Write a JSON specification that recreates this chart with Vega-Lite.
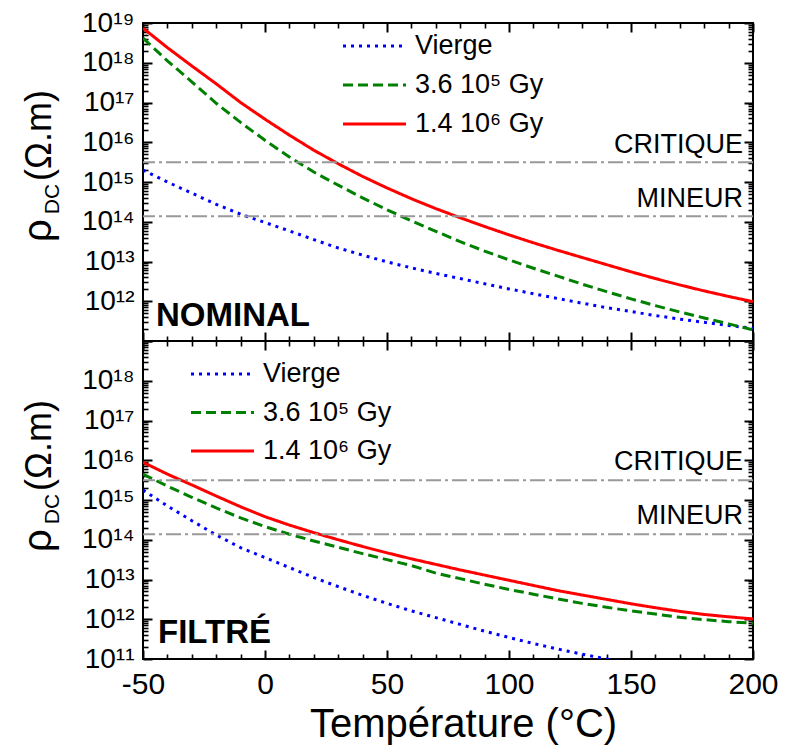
{
  "$schema": "https://vega.github.io/schema/vega-lite/v6.json",
  "padding": {"left": 17, "top": 8, "right": 5, "bottom": 5},
  "background": "white",
  "spacing": 0,
  "bounds": "flush",
  "datasets": {
    "levels": [
      {"level": "CRITIQUE", "rho": 3.16e15},
      {"level": "MINEUR", "rho": 1.38e14}
    ],
    "blank": [{"name": ""}],
    "nominal": [
      {"T": -50, "rho": 2.00e15, "s": "Vierge"}, {"T": -40, "rho": 1.00e15, "s": "Vierge"}, {"T": -30, "rho": 5.25e14, "s": "Vierge"}, {"T": -20, "rho": 2.75e14, "s": "Vierge"}, {"T": -10, "rho": 1.55e14, "s": "Vierge"}, {"T": 0, "rho": 9.55e13, "s": "Vierge"}, {"T": 10, "rho": 5.89e13, "s": "Vierge"}, {"T": 20, "rho": 3.55e13, "s": "Vierge"}, {"T": 30, "rho": 2.19e13, "s": "Vierge"}, {"T": 40, "rho": 1.45e13, "s": "Vierge"}, {"T": 50, "rho": 9.77e12, "s": "Vierge"}, {"T": 60, "rho": 6.92e12, "s": "Vierge"}, {"T": 70, "rho": 5.01e12, "s": "Vierge"}, {"T": 80, "rho": 3.72e12, "s": "Vierge"}, {"T": 90, "rho": 2.75e12, "s": "Vierge"}, {"T": 100, "rho": 2.04e12, "s": "Vierge"}, {"T": 110, "rho": 1.55e12, "s": "Vierge"}, {"T": 120, "rho": 1.17e12, "s": "Vierge"}, {"T": 130, "rho": 8.91e11, "s": "Vierge"}, {"T": 140, "rho": 6.92e11, "s": "Vierge"}, {"T": 150, "rho": 5.50e11, "s": "Vierge"}, {"T": 160, "rho": 4.37e11, "s": "Vierge"}, {"T": 170, "rho": 3.55e11, "s": "Vierge"}, {"T": 180, "rho": 2.95e11, "s": "Vierge"}, {"T": 190, "rho": 2.45e11, "s": "Vierge"}, {"T": 200, "rho": 2.09e11, "s": "Vierge"},
      {"T": -50, "rho": 4.17e18, "s": "3.6 10⁵ Gy"}, {"T": -40, "rho": 1.12e18, "s": "3.6 10⁵ Gy"}, {"T": -30, "rho": 3.31e17, "s": "3.6 10⁵ Gy"}, {"T": -20, "rho": 9.55e16, "s": "3.6 10⁵ Gy"}, {"T": -10, "rho": 3.16e16, "s": "3.6 10⁵ Gy"}, {"T": 0, "rho": 1.12e16, "s": "3.6 10⁵ Gy"}, {"T": 10, "rho": 4.27e15, "s": "3.6 10⁵ Gy"}, {"T": 20, "rho": 1.78e15, "s": "3.6 10⁵ Gy"}, {"T": 30, "rho": 8.32e14, "s": "3.6 10⁵ Gy"}, {"T": 40, "rho": 3.98e14, "s": "3.6 10⁵ Gy"}, {"T": 50, "rho": 2.00e14, "s": "3.6 10⁵ Gy"}, {"T": 60, "rho": 1.05e14, "s": "3.6 10⁵ Gy"}, {"T": 70, "rho": 5.75e13, "s": "3.6 10⁵ Gy"}, {"T": 80, "rho": 3.16e13, "s": "3.6 10⁵ Gy"}, {"T": 90, "rho": 1.82e13, "s": "3.6 10⁵ Gy"}, {"T": 100, "rho": 1.10e13, "s": "3.6 10⁵ Gy"}, {"T": 110, "rho": 6.76e12, "s": "3.6 10⁵ Gy"}, {"T": 120, "rho": 4.27e12, "s": "3.6 10⁵ Gy"}, {"T": 130, "rho": 2.69e12, "s": "3.6 10⁵ Gy"}, {"T": 140, "rho": 1.74e12, "s": "3.6 10⁵ Gy"}, {"T": 150, "rho": 1.15e12, "s": "3.6 10⁵ Gy"}, {"T": 160, "rho": 7.76e11, "s": "3.6 10⁵ Gy"}, {"T": 170, "rho": 5.37e11, "s": "3.6 10⁵ Gy"}, {"T": 180, "rho": 3.80e11, "s": "3.6 10⁵ Gy"}, {"T": 190, "rho": 2.69e11, "s": "3.6 10⁵ Gy"}, {"T": 200, "rho": 1.91e11, "s": "3.6 10⁵ Gy"},
      {"T": -50, "rho": 7.41e18, "s": "1.4 10⁶ Gy"}, {"T": -40, "rho": 2.40e18, "s": "1.4 10⁶ Gy"}, {"T": -30, "rho": 8.32e17, "s": "1.4 10⁶ Gy"}, {"T": -20, "rho": 2.95e17, "s": "1.4 10⁶ Gy"}, {"T": -10, "rho": 1.00e17, "s": "1.4 10⁶ Gy"}, {"T": 0, "rho": 3.80e16, "s": "1.4 10⁶ Gy"}, {"T": 10, "rho": 1.51e16, "s": "1.4 10⁶ Gy"}, {"T": 20, "rho": 6.31e15, "s": "1.4 10⁶ Gy"}, {"T": 30, "rho": 2.88e15, "s": "1.4 10⁶ Gy"}, {"T": 40, "rho": 1.38e15, "s": "1.4 10⁶ Gy"}, {"T": 50, "rho": 7.08e14, "s": "1.4 10⁶ Gy"}, {"T": 60, "rho": 3.80e14, "s": "1.4 10⁶ Gy"}, {"T": 70, "rho": 2.14e14, "s": "1.4 10⁶ Gy"}, {"T": 80, "rho": 1.26e14, "s": "1.4 10⁶ Gy"}, {"T": 90, "rho": 7.59e13, "s": "1.4 10⁶ Gy"}, {"T": 100, "rho": 4.68e13, "s": "1.4 10⁶ Gy"}, {"T": 110, "rho": 2.95e13, "s": "1.4 10⁶ Gy"}, {"T": 120, "rho": 1.91e13, "s": "1.4 10⁶ Gy"}, {"T": 130, "rho": 1.26e13, "s": "1.4 10⁶ Gy"}, {"T": 140, "rho": 8.32e12, "s": "1.4 10⁶ Gy"}, {"T": 150, "rho": 5.50e12, "s": "1.4 10⁶ Gy"}, {"T": 160, "rho": 3.72e12, "s": "1.4 10⁶ Gy"}, {"T": 170, "rho": 2.57e12, "s": "1.4 10⁶ Gy"}, {"T": 180, "rho": 1.82e12, "s": "1.4 10⁶ Gy"}, {"T": 190, "rho": 1.32e12, "s": "1.4 10⁶ Gy"}, {"T": 200, "rho": 9.77e11, "s": "1.4 10⁶ Gy"}
    ],
    "filtre": [
      {"T": -50, "rho": 1.78e15, "s": "Vierge"}, {"T": -40, "rho": 7.08e14, "s": "Vierge"}, {"T": -30, "rho": 3.02e14, "s": "Vierge"}, {"T": -20, "rho": 1.32e14, "s": "Vierge"}, {"T": -10, "rho": 6.31e13, "s": "Vierge"}, {"T": 0, "rho": 3.55e13, "s": "Vierge"}, {"T": 10, "rho": 2.00e13, "s": "Vierge"}, {"T": 20, "rho": 1.12e13, "s": "Vierge"}, {"T": 30, "rho": 6.61e12, "s": "Vierge"}, {"T": 40, "rho": 3.98e12, "s": "Vierge"}, {"T": 50, "rho": 2.51e12, "s": "Vierge"}, {"T": 60, "rho": 1.62e12, "s": "Vierge"}, {"T": 70, "rho": 1.10e12, "s": "Vierge"}, {"T": 80, "rho": 7.41e11, "s": "Vierge"}, {"T": 90, "rho": 5.01e11, "s": "Vierge"}, {"T": 100, "rho": 3.47e11, "s": "Vierge"}, {"T": 110, "rho": 2.45e11, "s": "Vierge"}, {"T": 120, "rho": 1.78e11, "s": "Vierge"}, {"T": 130, "rho": 1.32e11, "s": "Vierge"}, {"T": 140, "rho": 1.00e11, "s": "Vierge"}, {"T": 150, "rho": 7.59e10, "s": "Vierge"},
      {"T": -50, "rho": 4.47e15, "s": "3.6 10⁵ Gy"}, {"T": -40, "rho": 2.24e15, "s": "3.6 10⁵ Gy"}, {"T": -30, "rho": 1.17e15, "s": "3.6 10⁵ Gy"}, {"T": -20, "rho": 6.31e14, "s": "3.6 10⁵ Gy"}, {"T": -10, "rho": 3.55e14, "s": "3.6 10⁵ Gy"}, {"T": 0, "rho": 2.14e14, "s": "3.6 10⁵ Gy"}, {"T": 10, "rho": 1.38e14, "s": "3.6 10⁵ Gy"}, {"T": 20, "rho": 9.33e13, "s": "3.6 10⁵ Gy"}, {"T": 30, "rho": 6.46e13, "s": "3.6 10⁵ Gy"}, {"T": 40, "rho": 4.47e13, "s": "3.6 10⁵ Gy"}, {"T": 50, "rho": 3.16e13, "s": "3.6 10⁵ Gy"}, {"T": 60, "rho": 2.24e13, "s": "3.6 10⁵ Gy"}, {"T": 70, "rho": 1.45e13, "s": "3.6 10⁵ Gy"}, {"T": 80, "rho": 1.05e13, "s": "3.6 10⁵ Gy"}, {"T": 90, "rho": 7.59e12, "s": "3.6 10⁵ Gy"}, {"T": 100, "rho": 5.62e12, "s": "3.6 10⁵ Gy"}, {"T": 110, "rho": 4.27e12, "s": "3.6 10⁵ Gy"}, {"T": 120, "rho": 3.24e12, "s": "3.6 10⁵ Gy"}, {"T": 130, "rho": 2.51e12, "s": "3.6 10⁵ Gy"}, {"T": 140, "rho": 2.00e12, "s": "3.6 10⁵ Gy"}, {"T": 150, "rho": 1.62e12, "s": "3.6 10⁵ Gy"}, {"T": 160, "rho": 1.35e12, "s": "3.6 10⁵ Gy"}, {"T": 170, "rho": 1.12e12, "s": "3.6 10⁵ Gy"}, {"T": 180, "rho": 9.77e11, "s": "3.6 10⁵ Gy"}, {"T": 190, "rho": 8.71e11, "s": "3.6 10⁵ Gy"}, {"T": 200, "rho": 7.94e11, "s": "3.6 10⁵ Gy"},
      {"T": -50, "rho": 8.91e15, "s": "1.4 10⁶ Gy"}, {"T": -40, "rho": 4.47e15, "s": "1.4 10⁶ Gy"}, {"T": -30, "rho": 2.40e15, "s": "1.4 10⁶ Gy"}, {"T": -20, "rho": 1.26e15, "s": "1.4 10⁶ Gy"}, {"T": -10, "rho": 6.76e14, "s": "1.4 10⁶ Gy"}, {"T": 0, "rho": 3.80e14, "s": "1.4 10⁶ Gy"}, {"T": 10, "rho": 2.34e14, "s": "1.4 10⁶ Gy"}, {"T": 20, "rho": 1.51e14, "s": "1.4 10⁶ Gy"}, {"T": 30, "rho": 1.00e14, "s": "1.4 10⁶ Gy"}, {"T": 40, "rho": 6.76e13, "s": "1.4 10⁶ Gy"}, {"T": 50, "rho": 4.68e13, "s": "1.4 10⁶ Gy"}, {"T": 60, "rho": 3.31e13, "s": "1.4 10⁶ Gy"}, {"T": 70, "rho": 2.40e13, "s": "1.4 10⁶ Gy"}, {"T": 80, "rho": 1.74e13, "s": "1.4 10⁶ Gy"}, {"T": 90, "rho": 1.29e13, "s": "1.4 10⁶ Gy"}, {"T": 100, "rho": 9.55e12, "s": "1.4 10⁶ Gy"}, {"T": 110, "rho": 7.08e12, "s": "1.4 10⁶ Gy"}, {"T": 120, "rho": 5.25e12, "s": "1.4 10⁶ Gy"}, {"T": 130, "rho": 4.07e12, "s": "1.4 10⁶ Gy"}, {"T": 140, "rho": 3.16e12, "s": "1.4 10⁶ Gy"}, {"T": 150, "rho": 2.45e12, "s": "1.4 10⁶ Gy"}, {"T": 160, "rho": 1.95e12, "s": "1.4 10⁶ Gy"}, {"T": 170, "rho": 1.58e12, "s": "1.4 10⁶ Gy"}, {"T": 180, "rho": 1.32e12, "s": "1.4 10⁶ Gy"}, {"T": 190, "rho": 1.15e12, "s": "1.4 10⁶ Gy"}, {"T": 200, "rho": 1.02e12, "s": "1.4 10⁶ Gy"}
    ]
  },
  "vconcat": [
    {
      "width": 610,
      "height": 318,
      "layer": [
        {
          "data": {"name": "nominal"},
          "mark": {"type": "line", "strokeWidth": 3, "clip": true},
          "encoding": {
            "x": {"field": "T", "type": "quantitative", "scale": {"domain": [-50, 200], "nice": false, "zero": false},
              "axis": {"orient": "bottom", "values": [-50, 0, 50, 100, 150, 200], "labels": false, "ticks": false, "domain": false, "title": null}},
            "y": {"field": "rho", "type": "quantitative", "scale": {"type": "log", "domain": [1e11, 1e19], "nice": false},
              "axis": {"orient": "left", "ticks": false, "domain": false,
                "values": [1e11,1e12,1e13,1e14,1e15,1e16,1e17,1e18,1e19],
                "labelExpr": "round(log(datum.value)/LN10) >= 12 ? '10¹' + ['⁰','¹','²','³','⁴','⁵','⁶','⁷','⁸','⁹'][round(log(datum.value)/LN10) - 10] : ''",
                "labelPadding": 9, "labelFontSize": 28, "labelOverlap": false, "labelFlush": false,
                "title": "(Ω.m)", "titleFontSize": 36, "titleX": -93, "titleY": 112, "titleAngle": 270, "titleAlign": "center", "titleBaseline": "alphabetic"}},
            "color": {"field": "s", "type": "nominal",
              "scale": {"domain": ["Vierge", "3.6 10⁵ Gy", "1.4 10⁶ Gy"], "range": ["#0000ff", "#008000", "#ff0000"]},
              "legend": {"orient": "none", "legendX": 218, "legendY": 9.5, "title": null, "symbolType": "M-3,0H3", "symbolSize": 441, "symbolStrokeWidth": 3, "labelFontSize": 27, "labelFont": "Liberation Sans", "labelColor": "black", "labelOffset": 27, "rowPadding": 11, "padding": 0}},
            "strokeDash": {"field": "s", "type": "nominal",
              "scale": {"domain": ["Vierge", "3.6 10⁵ Gy", "1.4 10⁶ Gy"], "range": [[3, 5], [10, 5], [1, 0]]},
              "legend": {"orient": "none", "legendX": 218, "legendY": 9.5, "title": null, "symbolType": "M-3,0H3", "symbolSize": 441, "symbolStrokeWidth": 3, "labelFontSize": 27, "labelFont": "Liberation Sans", "labelColor": "black", "labelOffset": 27, "rowPadding": 11, "padding": 0}}
          }
        },
        {
          "data": {"name": "levels"},
          "mark": {"type": "rule", "color": "#999999", "strokeWidth": 2, "strokeDash": [15, 4, 3, 4]},
          "encoding": {
            "y": {"field": "rho", "type": "quantitative", "axis": null}
          }
        },
        {
          "data": {"name": "levels"},
          "mark": {"type": "text", "align": "right", "baseline": "alphabetic", "dx": -10, "dy": -9, "fontSize": 27, "font": "Liberation Sans", "color": "black"},
          "encoding": {
            "x": {"datum": 200,
              "axis": {"orient": "bottom", "values": [-50, 0, 50, 100, 150, 200], "offset": -9, "tickSize": 9, "tickWidth": 2, "labels": false, "domain": false, "title": null}},
            "y": {"field": "rho", "type": "quantitative",
              "axis": {"orient": "left", "values": [1e11,1e12,1e13,1e14,1e15,1e16,1e17,1e18,1e19], "offset": -9, "tickSize": 9, "tickWidth": 2, "labels": false, "domain": false,
                "title": "DC", "titleFontSize": 21, "titleX": -94, "titleY": 175.5, "titleAngle": 270, "titleAlign": "center", "titleBaseline": "alphabetic"}},
            "text": {"field": "level"}
          }
        },
        {
          "data": {"values": [{"name": "NOMINAL"}]},
          "mark": {"type": "text", "align": "left", "baseline": "alphabetic", "dx": 13, "dy": -15, "fontSize": 33, "fontWeight": "bold", "font": "Liberation Sans", "color": "black"},
          "encoding": {
            "x": {"datum": -50,
              "axis": {"orient": "top", "values": [-50, 0, 50, 100, 150, 200], "offset": -9, "tickSize": 9, "tickWidth": 2, "labels": false, "domain": false, "title": null}},
            "y": {"datum": 1e11,
              "axis": {"orient": "right", "values": [1e11,1e12,1e13,1e14,1e15,1e16,1e17,1e18,1e19], "offset": -9, "tickSize": 9, "tickWidth": 2, "labels": false, "domain": false, "title": null}},
            "text": {"field": "name"}
          }
        },
        {
          "data": {"name": "blank"},
          "mark": {"type": "text", "fontSize": 1},
          "encoding": {
            "x": {"datum": -50,
              "axis": {"orient": "bottom", "values": [-40,-30,-20,-10,10,20,30,40,60,70,80,90,110,120,130,140,160,170,180,190], "offset": -5, "tickSize": 5, "tickWidth": 1.6, "labels": false, "domain": false, "title": null}},
            "y": {"datum": 1e11,
              "axis": {"orient": "left",
                "values": [2e11,3e11,4e11,5e11,6e11,7e11,8e11,9e11,2e12,3e12,4e12,5e12,6e12,7e12,8e12,9e12,2e13,3e13,4e13,5e13,6e13,7e13,8e13,9e13,2e14,3e14,4e14,5e14,6e14,7e14,8e14,9e14,2e15,3e15,4e15,5e15,6e15,7e15,8e15,9e15,2e16,3e16,4e16,5e16,6e16,7e16,8e16,9e16,2e17,3e17,4e17,5e17,6e17,7e17,8e17,9e17,2e18,3e18,4e18,5e18,6e18,7e18,8e18,9e18],
                "offset": -5, "tickSize": 5, "tickWidth": 1.6, "labels": false, "domain": false,
                "title": "ρ", "titleFontSize": 40, "titleX": -98, "titleY": 207, "titleAngle": 270, "titleAlign": "center", "titleBaseline": "alphabetic"}},
            "text": {"field": "name"}
          }
        },
        {
          "data": {"name": "blank"},
          "mark": {"type": "text", "fontSize": 1},
          "encoding": {
            "x": {"datum": -50,
              "axis": {"orient": "top", "values": [-40,-30,-20,-10,10,20,30,40,60,70,80,90,110,120,130,140,160,170,180,190], "offset": -5, "tickSize": 5, "tickWidth": 1.6, "labels": false, "domain": false, "title": null}},
            "y": {"datum": 1e11,
              "axis": {"orient": "right",
                "values": [2e11,3e11,4e11,5e11,6e11,7e11,8e11,9e11,2e12,3e12,4e12,5e12,6e12,7e12,8e12,9e12,2e13,3e13,4e13,5e13,6e13,7e13,8e13,9e13,2e14,3e14,4e14,5e14,6e14,7e14,8e14,9e14,2e15,3e15,4e15,5e15,6e15,7e15,8e15,9e15,2e16,3e16,4e16,5e16,6e16,7e16,8e16,9e16,2e17,3e17,4e17,5e17,6e17,7e17,8e17,9e17,2e18,3e18,4e18,5e18,6e18,7e18,8e18,9e18],
                "offset": -5, "tickSize": 5, "tickWidth": 1.6, "labels": false, "domain": false, "title": null}},
            "text": {"field": "name"}
          }
        }
      ],
      "resolve": {"axis": {"x": "independent", "y": "independent"}}
    },
    {
      "width": 610,
      "height": 318,
      "layer": [
        {
          "data": {"name": "filtre"},
          "mark": {"type": "line", "strokeWidth": 3, "clip": true},
          "encoding": {
            "x": {"field": "T", "type": "quantitative", "scale": {"domain": [-50, 200], "nice": false, "zero": false},
              "axis": {"orient": "bottom", "values": [-50, 0, 50, 100, 150, 200], "ticks": false, "domain": false,
                "labelExpr": "'' + datum.value", "labelPadding": 10, "labelFontSize": 30, "labelOverlap": false, "labelFlush": false,
                "title": "Température (°C)", "titleFontSize": 40, "titleX": 320, "titleY": 77, "titleAlign": "center", "titleBaseline": "alphabetic", "titleAngle": 0}},
            "y": {"field": "rho", "type": "quantitative", "scale": {"type": "log", "domain": [1e11, 1e19], "nice": false},
              "axis": {"orient": "left", "ticks": false, "domain": false,
                "values": [1e11,1e12,1e13,1e14,1e15,1e16,1e17,1e18,1e19],
                "labelExpr": "round(log(datum.value)/LN10) <= 18 ? '10¹' + ['⁰','¹','²','³','⁴','⁵','⁶','⁷','⁸','⁹'][round(log(datum.value)/LN10) - 10] : ''",
                "labelPadding": 9, "labelFontSize": 28, "labelOverlap": false, "labelFlush": false,
                "title": "(Ω.m)", "titleFontSize": 36, "titleX": -93, "titleY": 104, "titleAngle": 270, "titleAlign": "center", "titleBaseline": "alphabetic"}},
            "color": {"field": "s", "type": "nominal",
              "scale": {"domain": ["Vierge", "3.6 10⁵ Gy", "1.4 10⁶ Gy"], "range": ["#0000ff", "#008000", "#ff0000"]},
              "legend": {"orient": "none", "legendX": 66, "legendY": 19.5, "title": null, "symbolType": "M-3,0H3", "symbolSize": 441, "symbolStrokeWidth": 3, "labelFontSize": 27, "labelFont": "Liberation Sans", "labelColor": "black", "labelOffset": 27, "rowPadding": 10.5, "padding": 0}},
            "strokeDash": {"field": "s", "type": "nominal",
              "scale": {"domain": ["Vierge", "3.6 10⁵ Gy", "1.4 10⁶ Gy"], "range": [[3, 5], [10, 5], [1, 0]]},
              "legend": {"orient": "none", "legendX": 66, "legendY": 19.5, "title": null, "symbolType": "M-3,0H3", "symbolSize": 441, "symbolStrokeWidth": 3, "labelFontSize": 27, "labelFont": "Liberation Sans", "labelColor": "black", "labelOffset": 27, "rowPadding": 10.5, "padding": 0}}
          }
        },
        {
          "data": {"name": "levels"},
          "mark": {"type": "rule", "color": "#999999", "strokeWidth": 2, "strokeDash": [15, 4, 3, 4]},
          "encoding": {
            "y": {"field": "rho", "type": "quantitative", "axis": null}
          }
        },
        {
          "data": {"name": "levels"},
          "mark": {"type": "text", "align": "right", "baseline": "alphabetic", "dx": -10, "dy": -10, "fontSize": 27, "font": "Liberation Sans", "color": "black"},
          "encoding": {
            "x": {"datum": 200,
              "axis": {"orient": "bottom", "values": [-50, 0, 50, 100, 150, 200], "offset": -9, "tickSize": 9, "tickWidth": 2, "labels": false, "domain": false, "title": null}},
            "y": {"field": "rho", "type": "quantitative",
              "axis": {"orient": "left", "values": [1e11,1e12,1e13,1e14,1e15,1e16,1e17,1e18,1e19], "offset": -9, "tickSize": 9, "tickWidth": 2, "labels": false, "domain": false,
                "title": "DC", "titleFontSize": 21, "titleX": -94, "titleY": 167.5, "titleAngle": 270, "titleAlign": "center", "titleBaseline": "alphabetic"}},
            "text": {"field": "level"}
          }
        },
        {
          "data": {"values": [{"name": "FILTRÉ"}]},
          "mark": {"type": "text", "align": "left", "baseline": "alphabetic", "dx": 15, "dy": -16, "fontSize": 33, "fontWeight": "bold", "font": "Liberation Sans", "color": "black"},
          "encoding": {
            "x": {"datum": -50,
              "axis": {"orient": "top", "values": [-50, 0, 50, 100, 150, 200], "offset": -9, "tickSize": 9, "tickWidth": 2, "labels": false, "domain": false, "title": null}},
            "y": {"datum": 1e11,
              "axis": {"orient": "right", "values": [1e11,1e12,1e13,1e14,1e15,1e16,1e17,1e18,1e19], "offset": -9, "tickSize": 9, "tickWidth": 2, "labels": false, "domain": false, "title": null}},
            "text": {"field": "name"}
          }
        },
        {
          "data": {"name": "blank"},
          "mark": {"type": "text", "fontSize": 1},
          "encoding": {
            "x": {"datum": -50,
              "axis": {"orient": "bottom", "values": [-40,-30,-20,-10,10,20,30,40,60,70,80,90,110,120,130,140,160,170,180,190], "offset": -5, "tickSize": 5, "tickWidth": 1.6, "labels": false, "domain": false, "title": null}},
            "y": {"datum": 1e11,
              "axis": {"orient": "left",
                "values": [2e11,3e11,4e11,5e11,6e11,7e11,8e11,9e11,2e12,3e12,4e12,5e12,6e12,7e12,8e12,9e12,2e13,3e13,4e13,5e13,6e13,7e13,8e13,9e13,2e14,3e14,4e14,5e14,6e14,7e14,8e14,9e14,2e15,3e15,4e15,5e15,6e15,7e15,8e15,9e15,2e16,3e16,4e16,5e16,6e16,7e16,8e16,9e16,2e17,3e17,4e17,5e17,6e17,7e17,8e17,9e17,2e18,3e18,4e18,5e18,6e18,7e18,8e18,9e18],
                "offset": -5, "tickSize": 5, "tickWidth": 1.6, "labels": false, "domain": false,
                "title": "ρ", "titleFontSize": 40, "titleX": -98, "titleY": 199, "titleAngle": 270, "titleAlign": "center", "titleBaseline": "alphabetic"}},
            "text": {"field": "name"}
          }
        },
        {
          "data": {"name": "blank"},
          "mark": {"type": "text", "fontSize": 1},
          "encoding": {
            "x": {"datum": -50,
              "axis": {"orient": "top", "values": [-40,-30,-20,-10,10,20,30,40,60,70,80,90,110,120,130,140,160,170,180,190], "offset": -5, "tickSize": 5, "tickWidth": 1.6, "labels": false, "domain": false, "title": null}},
            "y": {"datum": 1e11,
              "axis": {"orient": "right",
                "values": [2e11,3e11,4e11,5e11,6e11,7e11,8e11,9e11,2e12,3e12,4e12,5e12,6e12,7e12,8e12,9e12,2e13,3e13,4e13,5e13,6e13,7e13,8e13,9e13,2e14,3e14,4e14,5e14,6e14,7e14,8e14,9e14,2e15,3e15,4e15,5e15,6e15,7e15,8e15,9e15,2e16,3e16,4e16,5e16,6e16,7e16,8e16,9e16,2e17,3e17,4e17,5e17,6e17,7e17,8e17,9e17,2e18,3e18,4e18,5e18,6e18,7e18,8e18,9e18],
                "offset": -5, "tickSize": 5, "tickWidth": 1.6, "labels": false, "domain": false, "title": null}},
            "text": {"field": "name"}
          }
        }
      ],
      "resolve": {"axis": {"x": "independent", "y": "independent"}}
    }
  ],
  "resolve": {
    "scale": {"color": "independent", "strokeDash": "independent"},
    "legend": {"color": "independent", "strokeDash": "independent"}
  },
  "config": {
    "font": "Liberation Sans",
    "view": {"stroke": "black", "strokeWidth": 2},
    "axis": {
      "grid": false,
      "domainColor": "black",
      "domainWidth": 2,
      "tickColor": "black",
      "tickWidth": 1.5,
      "labelColor": "black",
      "titleColor": "black",
      "titleFontWeight": "normal",
      "labelFont": "Liberation Sans",
      "titleFont": "Liberation Sans"
    },
    "text": {"font": "Liberation Sans"}
  }
}
